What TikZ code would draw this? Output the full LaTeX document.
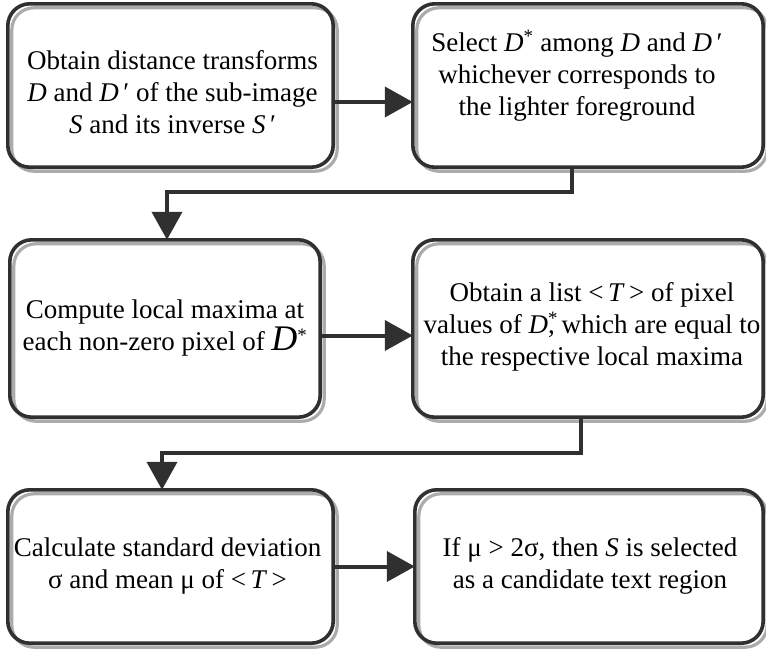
\documentclass[tikz,border=0pt]{standalone}
\usepackage{fontspec}
\setmainfont{Liberation Serif}
\usetikzlibrary{arrows.meta,calc}
\definecolor{dk}{HTML}{303030}
\definecolor{sh}{HTML}{ABABAB}
\tikzset{
  box/.style={draw=dk, line width=3.6pt, rounded corners=22pt, inner sep=0pt},
  shadowline/.style={draw=sh, line width=3.2pt, rounded corners=22pt},
  txt/.style={font=\fontsize{27}{32}\selectfont, align=center, inner sep=0pt},
  arr/.style={draw=dk, line width=4pt, -{Triangle[length=28pt,width=30pt]}}
}
\begin{document}
\begin{tikzpicture}[x=1pt,y=-1pt]
\useasboundingbox (0,0) rectangle (766,653);
% box frames (placement)
\path (170.5,85.5) node[inner sep=0pt, minimum width=325pt, minimum height=163pt] (b1) {}
      (588,85.5) node[inner sep=0pt, minimum width=350pt, minimum height=163pt] (b2) {}
      (165,328.5) node[inner sep=0pt, minimum width=310pt, minimum height=177pt] (b3) {}
      (588,328.5) node[inner sep=0pt, minimum width=350pt, minimum height=177pt] (b4) {}
      (170.5,566.5) node[inner sep=0pt, minimum width=325pt, minimum height=153pt] (b5) {}
      (589,566.5) node[inner sep=0pt, minimum width=348pt, minimum height=153pt] (b6) {};
% shadows
\foreach \b in {b1,b2,b3,b4,b5,b6}{
  \draw[shadowline] ([shift={(4,4)}]\b.north west) rectangle ([shift={(4,4)}]\b.south east);
}
% outlines
\foreach \b in {b1,b2,b3,b4,b5,b6}{
  \draw[box] (\b.north west) rectangle (\b.south east);
}
% texts
\node[txt] (t1) at ($(b1.center)+(2,7)$) {Obtain distance transforms\\ \textit{D} and \textit{D}\,′ of the sub-image\\ \textit{S} and its inverse \textit{S}\,′};
\node[txt] (t2) at ($(b2.center)+(-11,-10)$) {Select \textit{D}\textsuperscript{*} among \textit{D} and \textit{D}\,′\\ whichever corresponds to\\ the lighter foreground};
\node[txt] (t3) at ($(b3.center)+(0,0)$) {Compute local maxima at\\ each non-zero pixel of {\fontsize{36}{36}\selectfont\textit{D}}\textsuperscript{*}};
\node[txt] (t4) at ($(b4.center)+(4,-2)$) {Obtain a list <\,\textit{T}\,> of pixel\\ values of \textit{D}\rlap{\textsuperscript{*}}, which are equal to\\ the respective local maxima};
\node[txt] (t5) at ($(b5.center)+(-3,0)$) {Calculate standard deviation\\ σ and mean μ of <\,\textit{T}\,>};
\node[txt] (t6) at ($(b6.center)+(1,-1)$) {If μ > 2σ, then \textit{S} is selected\\ as a candidate text region};
% connectors
\draw[arr] ([yshift=-16.5pt]b1.east) -- ([yshift=-16.5pt]b2.west);
\draw[arr] ([xshift=-16pt]b2.south) -- ++(0,25) -| ([xshift=2pt]b3.north);
\draw[arr] ([yshift=-7pt]b3.east) -- ([yshift=-7pt]b4.west);
\draw[arr] ([xshift=-7pt]b4.south) -- ++(0,36) -| ([xshift=-8.5pt]b5.north);
\draw[arr] (b5.east) -- (b6.west);
\end{tikzpicture}
\end{document}
